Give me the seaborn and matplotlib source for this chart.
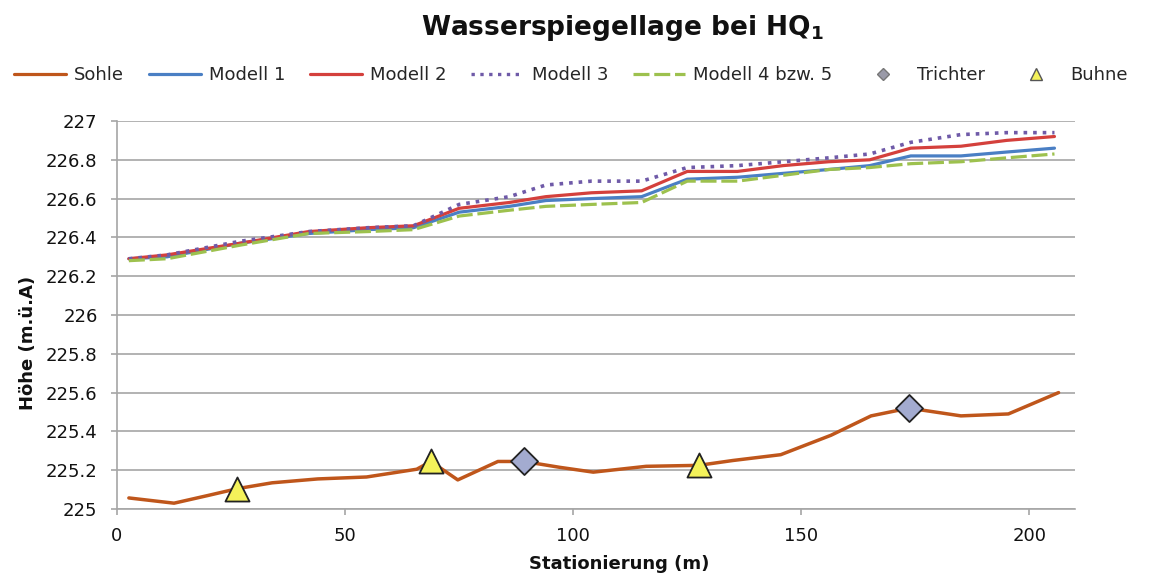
import matplotlib
matplotlib.use("Agg")
import matplotlib.pyplot as plt
from matplotlib.lines import Line2D
import seaborn as sns
import pandas as pd

# Riverbed profile (Sohle)
sohle_x = [2.6, 12.5, 20, 26.4, 34, 44, 54.7, 65.7, 68.8, 74.7, 83.5, 89.2, 97,
           104.4, 116, 127.5, 135, 145.5, 156.5, 165.3, 173.6, 185, 195.4, 206.4]
sohle_y = [225.057, 225.03, 225.07, 225.105, 225.135, 225.155, 225.165, 225.205,
           225.245, 225.15, 225.245, 225.245, 225.215, 225.19, 225.22, 225.225,
           225.25, 225.28, 225.38, 225.48, 225.52, 225.48, 225.49, 225.6]

# Water surface levels of the models
station = [2.6, 11, 27, 42, 55, 65, 75, 86, 94, 104, 115, 125, 136, 146, 156,
           165, 174, 185, 195, 205.5]
modell_1 = [226.29, 226.30, 226.37, 226.42, 226.44, 226.45, 226.53, 226.56, 226.59,
            226.60, 226.61, 226.70, 226.71, 226.73, 226.75, 226.77, 226.82, 226.82,
            226.84, 226.86]
modell_2 = [226.29, 226.31, 226.37, 226.43, 226.45, 226.46, 226.55, 226.58, 226.61,
            226.63, 226.64, 226.74, 226.74, 226.77, 226.79, 226.80, 226.86, 226.87,
            226.90, 226.92]
modell_3 = [226.29, 226.31, 226.38, 226.43, 226.45, 226.46, 226.57, 226.61, 226.67,
            226.69, 226.69, 226.76, 226.77, 226.79, 226.81, 226.83, 226.89, 226.93,
            226.94, 226.94]
modell_4 = [226.28, 226.29, 226.36, 226.42, 226.43, 226.44, 226.51, 226.54, 226.56,
            226.57, 226.58, 226.69, 226.69, 226.72, 226.75, 226.76, 226.78, 226.79,
            226.81, 226.83]

# Point features
trichter_x = [89.2, 173.6]
trichter_y = [225.245, 225.52]
buhne_x = [26.4, 68.8, 127.5]
buhne_y = [225.105, 225.245, 225.225]

labels = ["Sohle", "Modell 1", "Modell 2", "Modell 3", "Modell 4 bzw. 5",
          "Trichter", "Buhne"]
y_ticks = [225, 225.2, 225.4, 225.6, 225.8, 226, 226.2, 226.4, 226.6, 226.8, 227]
y_ticklabels = ["225", "225.2", "225.4", "225.6", "225.8", "226", "226.2", "226.4",
                "226.6", "226.8", "227"]
x_ticks = [0, 50, 100, 150, 200]

sns.set_theme(style="whitegrid")
plt.rcParams["font.family"] = ["DejaVu Sans"]
plt.rcParams["mathtext.fontset"] = "dejavusans"

c_sohle = "#bf561b"
c_m1 = "#4a7fc4"
c_m2 = "#d4403c"
c_m3 = "#6f5aa8"
c_m4 = "#9dc14e"
c_trichter = "#a3abd0"
c_buhne = "#f4f25a"

fig = plt.figure(figsize=(11.53, 5.79), dpi=100)
ax = fig.add_axes([117 / 1153, 1 - 509 / 579, (1075 - 117) / 1153, (509 - 121) / 579])

lw = 2.3
df_s = pd.DataFrame({"x": sohle_x, "y": sohle_y})
sns.lineplot(data=df_s, x="x", y="y", ax=ax, color=c_sohle, lw=2.5, sort=False)

line_specs = [
    (modell_1, c_m1, "-", None),
    (modell_2, c_m2, "-", None),
    (modell_3, c_m3, ":", None),
    (modell_4, c_m4, "--", (5, 1.5)),
]
for vals, col, ls, dash in line_specs:
    df = pd.DataFrame({"x": station, "y": vals})
    sns.lineplot(data=df, x="x", y="y", ax=ax, color=col, lw=lw, linestyle=ls,
                 sort=False)
    if dash is not None:
        ax.lines[-1].set_dashes(dash)
    if ls == ":":
        ax.lines[-1].set_lw(2.6)

sns.scatterplot(x=trichter_x, y=trichter_y, ax=ax, marker="D", s=190,
                color=c_trichter, edgecolor="#222222", linewidth=1.3, zorder=5)
sns.scatterplot(x=buhne_x, y=buhne_y, ax=ax, marker="^", s=300,
                color=c_buhne, edgecolor="#222222", linewidth=1.3, zorder=5)

ax.set_xlim(0, 210)
ax.set_ylim(225, 227)
ax.set_yticks(y_ticks)
ax.set_yticklabels(y_ticklabels)
ax.set_xticks(x_ticks)

ax.grid(axis="x", visible=False)
ax.grid(axis="y", color="#a6a6a6", lw=1.2)
for side in ["top", "right"]:
    ax.spines[side].set_visible(False)
for side in ["left", "bottom"]:
    ax.spines[side].set_color("#a6a6a6")
    ax.spines[side].set_linewidth(1.2)
ax.tick_params(axis="both", which="major", labelsize=13, colors="#a6a6a6",
               labelcolor="#111111", length=4, width=1.2, direction="out",
               left=True, bottom=True)
ax.tick_params(axis="y", pad=10)
ax.tick_params(axis="x", pad=9)

ax.set_xlabel("Stationierung (m)", fontsize=13, fontweight="bold", color="#111111")
ax.set_ylabel("Höhe (m.ü.A)", fontsize=13, fontweight="bold", color="#111111")
ax.xaxis.set_label_coords((619 - 117) / 958, -0.118)
ax.yaxis.set_label_coords(-0.083, 0.428)

fig.text(0.540, 1 - 28 / 579, r"Wasserspiegellage bei HQ$_\mathbf{1}$",
         ha="center", va="center", fontsize=19, fontweight="bold", color="#111111")

handles = [
    Line2D([], [], color=c_sohle, lw=lw),
    Line2D([], [], color=c_m1, lw=lw),
    Line2D([], [], color=c_m2, lw=lw),
    Line2D([], [], color=c_m3, lw=2.4, linestyle=":"),
    Line2D([], [], color=c_m4, lw=lw, dashes=(5, 1.5)),
    Line2D([], [], color="none", marker="D", markersize=6,
           markerfacecolor="#9a9aa8", markeredgecolor="#777777"),
    Line2D([], [], color="none", marker="^", markersize=8,
           markerfacecolor=c_buhne, markeredgecolor="#555555"),
]
fig.legend(handles, labels, loc="center", ncol=7, frameon=False,
           bbox_to_anchor=(0.495, 1 - 75 / 579), fontsize=13, handlelength=2.9,
           columnspacing=1.35, handletextpad=0.45)

fig.savefig("out.png", dpi=100, facecolor="white")
